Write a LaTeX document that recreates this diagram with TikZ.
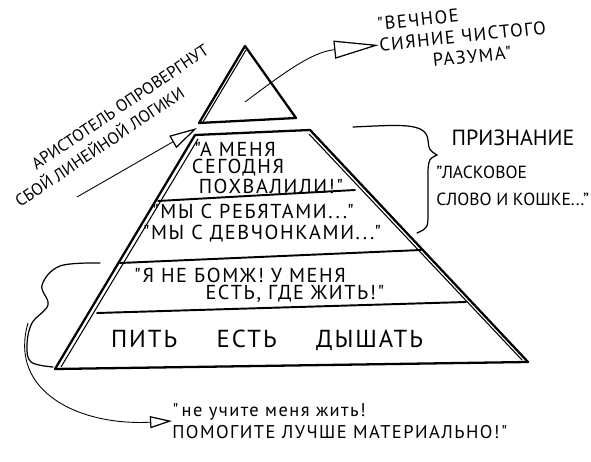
\documentclass[tikz,border=0pt]{standalone}
\usepackage{fontspec}
\setmainfont{PT Sans}
\newfontfamily\hand[LetterSpace=8]{PT Sans}
\usetikzlibrary{arrows.meta,positioning,calc}

\begin{document}
\begin{tikzpicture}[x=0.02cm, y=-0.02cm,
  % Text styles
  lvl/.style={font=\hand\fontsize{11.5}{13}\selectfont, inner sep=0pt, align=center},
  note/.style={font=\fontsize{10}{15}\selectfont, inner sep=0pt, align=left},
  % Line styles
  edge/.style={line width=1.3pt, line cap=round, line join=round},
  sketch/.style={line width=0.6pt, line cap=round},
  tier/.style={line width=1.1pt, line cap=round},
  brace/.style={line width=0.7pt, line cap=round},
  % Pointer styles (hand drawn arrows)
  ptr/.style={line width=0.5pt, -{Triangle[open, length=5.6mm, width=2.8mm, line width=0.7pt]}},
  ptrbig/.style={line width=0.5pt, -{Triangle[open, length=9mm, width=3.6mm, line width=0.7pt]}},
  ptrsmall/.style={line width=0.5pt, -{Triangle[open, length=4.4mm, width=2.4mm, line width=0.7pt]}},
]
\useasboundingbox (0,0) rectangle (591,462);

% === Pyramid corners ===
\coordinate (apex)  at (245,46);
\coordinate (triL)  at (199,123);
\coordinate (triR)  at (296,118);
\coordinate (topL)  at (195,135);
\coordinate (topR)  at (310,130);
\coordinate (baseL) at (55,369);
\coordinate (baseR) at (528,362);

% top triangle and trapezoid
\draw[edge] (triL) -- (apex) -- (triR) -- cycle;
\draw[sketch] ($(triL)+(4,-1)$) -- ($(apex)+(1,4)$);
\draw[edge] (topL) -- (topR) -- (baseR) -- (baseL) -- cycle;
\draw[sketch] ($(baseL)+(6,-2)$) -- ($(topL)+(3,4)$);
\draw[sketch] ($(baseR)+(-6,-2)$) -- ($(topR)+(-1,4)$);

% tier lines
\draw[tier] (158,201) -- (355,190);
\draw[tier] (120,263) -- (421,250);
\draw[tier] (97,313) -- (466,302);

% === Pyramid texts ===
\node[lvl] (praiseA) at (235,149) {"А МЕНЯ};
\node[lvl] (praiseB) at (238,168) {СЕГОДНЯ};
\node[lvl] (praiseC) at (271,186) {ПОХВАЛИЛИ!"};
\node[lvl] (guys)    at (253,211) {"МЫ С РЕБЯТАМИ..."};
\node[lvl] (girls)   at (262,234) {"МЫ С ДЕВЧОНКАМИ..."};
\node[lvl] (homeA)   at (240,275) {"Я НЕ БОМЖ! У МЕНЯ};
\node[lvl] (homeB)   at (295,294) {ЕСТЬ, ГДЕ ЖИТЬ!"};
\node[lvl, font=\hand\fontsize{14}{16}\selectfont] (basic) at (267,340)
  {ПИТЬ\hspace{1.6em}ЕСТЬ\hspace{1.6em}ДЫШАТЬ};

% === Side notes ===
\node[note, font=\fontsize{12.5}{15}\selectfont] (recog) at (513,138) {ПРИЗНАНИЕ};
\node[note, anchor=west] (kind) at (436,186)
  {"ЛАСКОВОЕ\\СЛОВО И КОШКЕ..."};
\node[note, font=\hand\fontsize{10.5}{12}\selectfont, rotate=6, anchor=west] (eternal) at (379,45)
  {"ВЕЧНОЕ\\СИЯНИЕ ЧИСТОГО\\\hspace*{2.8em}РАЗУМА"};
\node[note, font=\fontsize{9.5}{11}\selectfont, rotate=34] (aristA) at (120,107) {АРИСТОТЕЛЬ ОПРОВЕРГНУТ};
\node[note, font=\fontsize{9.5}{11}\selectfont, rotate=34] (aristB) at (99,146) {СБОЙ ЛИНЕЙНОЙ ЛОГИКИ};
\node[note, font=\hand\fontsize{10.5}{12.5}\selectfont, anchor=west] (advice) at (172,421)
  {"\,не учите меня жить!\\ПОМОГИТЕ ЛУЧШЕ МАТЕРИАЛЬНО!"};

% === Braces ===
\draw[brace] (353,127) .. controls (400,125) and (426,122) .. (428,140)
  .. controls (429,150) .. (437,155) .. controls (429,159) .. (428,170)
  -- (428,212) .. controls (428,228) .. (417,233);
\draw[brace] plot[smooth, tension=0.6] coordinates
  {(100,263) (60,266) (42,285) (48,305) (32,323) (27,345) (31,362) (53,367)};

% === Pointers ===
\coordinate (aristTail) at (77,197);
\coordinate (gapL)      at (197,128);
\coordinate (triIn)     at (245,102);
\coordinate (braceTail) at (28,323);
\draw[ptr] (aristTail) -- (gapL);
\draw[ptrbig] (triIn) .. controls (285,72) and (312,52) .. (eternal.west);
\draw[ptrsmall] (braceTail) .. controls (8,392) and (80,426) .. (advice.west);

\end{tikzpicture}
\end{document}
